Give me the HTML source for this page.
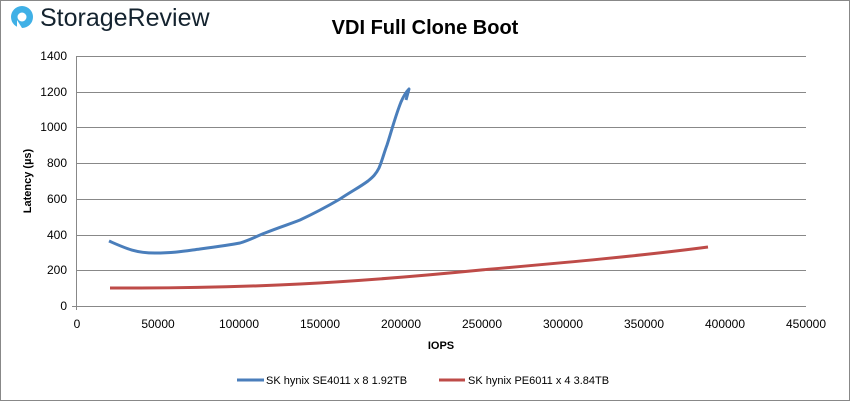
<!DOCTYPE html>
<html><head><meta charset="utf-8"><style>
body{margin:0;background:#fff}
svg{display:block}
text{font-family:"Liberation Sans",sans-serif}
</style></head><body>
<svg width="850" height="401" viewBox="0 0 850 401">
<rect x="0.5" y="0.5" width="849" height="400" fill="#fff" stroke="#888"/>
<circle cx="22" cy="17" r="11" fill="#3fb0e6"/>
<circle cx="22" cy="17" r="4.5" fill="#fff"/>
<path d="M17 20 L17 29 L22 28 Z" fill="#fff"/>
<text x="40" y="26" font-size="25" fill="#14232f">StorageReview</text>
<text x="425" y="34" font-size="20" font-weight="bold" text-anchor="middle" fill="#000">VDI Full Clone Boot</text>
<g stroke="#888" stroke-width="1">
<line x1="76" y1="56.5" x2="806" y2="56.5"/>
<line x1="76" y1="92.5" x2="806" y2="92.5"/>
<line x1="76" y1="127.5" x2="806" y2="127.5"/>
<line x1="76" y1="163.5" x2="806" y2="163.5"/>
<line x1="76" y1="199.5" x2="806" y2="199.5"/>
<line x1="76" y1="235.5" x2="806" y2="235.5"/>
<line x1="76" y1="270.5" x2="806" y2="270.5"/>
<line x1="72" y1="306.5" x2="806" y2="306.5"/>
<line x1="76.5" y1="56" x2="76.5" y2="310"/>
</g>
<g font-size="12" fill="#000" text-anchor="end">
<text x="67" y="60">1400</text><text x="67" y="96">1200</text><text x="67" y="131">1000</text>
<text x="67" y="167">800</text><text x="67" y="203">600</text><text x="67" y="239">400</text>
<text x="67" y="274">200</text><text x="67" y="310">0</text>
</g>
<g font-size="12" fill="#000" text-anchor="middle">
<text x="77" y="328">0</text><text x="158" y="328">50000</text><text x="239" y="328">100000</text>
<text x="320" y="328">150000</text><text x="401" y="328">200000</text><text x="482" y="328">250000</text>
<text x="563" y="328">300000</text><text x="644" y="328">350000</text><text x="725" y="328">400000</text>
<text x="806" y="328">450000</text>
</g>
<text x="441" y="349" font-size="11" font-weight="bold" text-anchor="middle">IOPS</text>
<text transform="translate(31,181) rotate(-90)" font-size="11" font-weight="bold" text-anchor="middle">Latency (µs)</text>
<path d="M109 241 C125 248 135 253 155 253 C175 253 185 251 200 249 C215 247 230 245 240 243 C250 240 257 236 265 233 C280 227 290 224 300 220 C315 213 328 206 340 199 C352 191 360 187 368 181 C373 177 376 174 379 168 C382 161 384 153 387 145 C391 133 395 117 401 102 C404 95 406 92 409 89 L406 100" fill="none" stroke="#4a7ebb" stroke-width="3" stroke-linejoin="round"/>
<path d="M110 288 L140 288 C200 288 240 287 300 284 C360 281 420 276 481 270 C560 263 640 256 708 247" fill="none" stroke="#be4b48" stroke-width="3"/>
<line x1="237" y1="380" x2="264" y2="380" stroke="#4a7ebb" stroke-width="3"/>
<text x="266" y="384" font-size="11">SK hynix SE4011 x 8 1.92TB</text>
<line x1="439" y1="380" x2="465" y2="380" stroke="#be4b48" stroke-width="3"/>
<text x="468" y="384" font-size="11">SK hynix PE6011 x 4 3.84TB</text>
</svg>
</body></html>
